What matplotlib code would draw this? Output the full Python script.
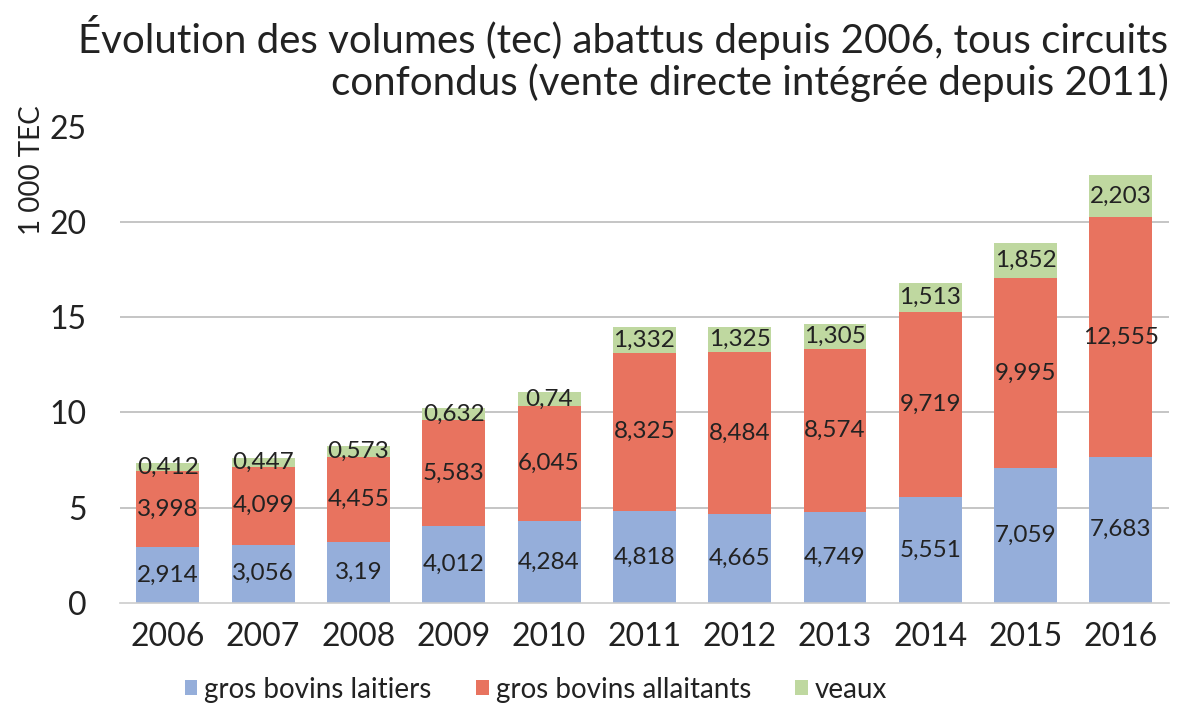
import matplotlib
matplotlib.use("Agg")
import matplotlib.pyplot as plt
import numpy as np

years = ["2006", "2007", "2008", "2009", "2010", "2011", "2012", "2013", "2014", "2015", "2016"]
laitiers = [2.914, 3.056, 3.19, 4.012, 4.284, 4.818, 4.665, 4.749, 5.551, 7.059, 7.683]
allaitants = [3.998, 4.099, 4.455, 5.583, 6.045, 8.325, 8.484, 8.574, 9.719, 9.995, 12.555]
veaux = [0.412, 0.447, 0.573, 0.632, 0.74, 1.332, 1.325, 1.305, 1.513, 1.852, 2.203]
series_names = ["gros bovins laitiers", "gros bovins allaitants", "veaux"]
colors = ["#95AEDA", "#E8735F", "#BFD8A0"]

plt.rcParams['font.family'] = ['Lato', 'DejaVu Sans']
txt = "#222222"

fig = plt.figure(figsize=(11.78, 7.16), dpi=100)
fig.patch.set_facecolor("white")
ax = fig.add_axes([0.102, 0.158, 0.890, 0.665])

x = np.arange(len(years))
w = 0.66
bottom = np.zeros(len(years))
handles = []
for vals, col, name in zip([laitiers, allaitants, veaux], colors, series_names):
    vals = np.array(vals)
    b = ax.bar(x, vals, w, bottom=bottom, color=col, label=name, zorder=2)
    handles.append(b)
    for xi, v, bt in zip(x, vals, bottom):
        lab = f"{v:g}".replace(".", ",")
        ax.text(xi, bt + v / 2, lab, ha="center", va="center", fontsize=17.5, color=txt, zorder=3)
    bottom += vals

ax.set_xlim(-0.5, len(years) - 0.5)
ax.set_ylim(0, 25)
ax.set_yticks([0, 5, 10, 15, 20, 25])
ax.set_xticks(x)
ax.set_xticklabels(years)
ax.tick_params(axis="both", length=0, labelsize=23, colors=txt)
ax.tick_params(axis="y", pad=24)
ax.tick_params(axis="x", pad=14)
for yv in [5, 10, 15, 20]:
    ax.axhline(yv, color="#BBBBBB", lw=1.2, zorder=1)
for s in ["top", "right", "left"]:
    ax.spines[s].set_visible(False)
ax.spines["bottom"].set_color("#CCCCCC")
ax.spines["bottom"].set_linewidth(1.2)

fig.text(0.027, 0.762, "1 000 TEC", rotation=90, ha="center", va="center", fontsize=20, color=txt)

fig.text(0.992, 0.948, "Évolution des volumes (tec) abattus depuis 2006, tous circuits",
         ha="right", va="center", fontsize=29, color=txt)
fig.text(0.992, 0.885, "confondus (vente directe intégrée depuis 2011)",
         ha="right", va="center", fontsize=29, color=txt)

fig.legend(handles, series_names, loc="center", bbox_to_anchor=(0.455, 0.037), ncol=3,
           frameon=False, fontsize=20, handlelength=0.45, handleheight=0.45,
           handletextpad=0.25, columnspacing=1.6, labelcolor=txt)

fig.savefig("out.png", dpi=100, facecolor="white")
